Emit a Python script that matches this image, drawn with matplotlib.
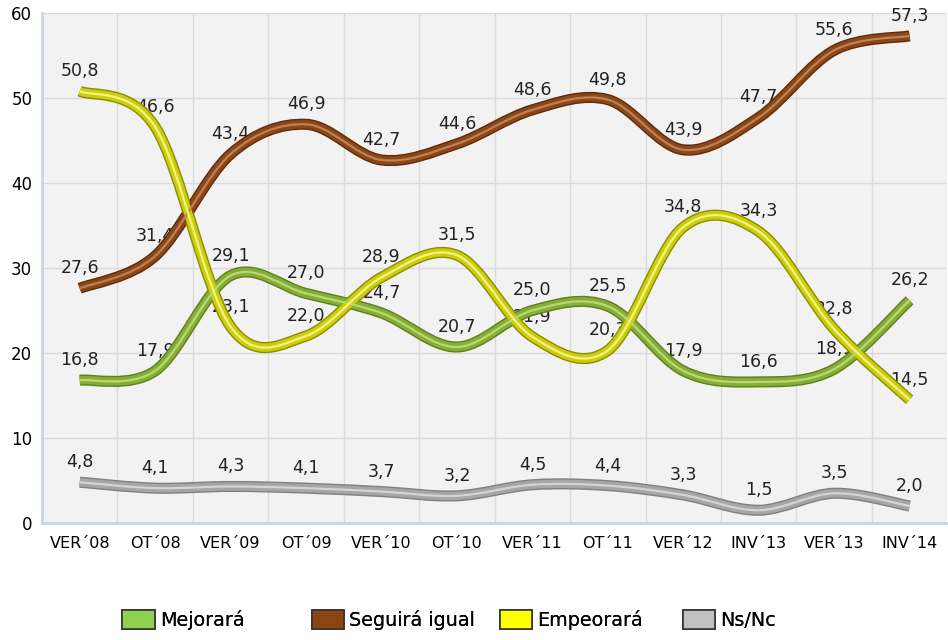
import matplotlib
matplotlib.use("Agg")
import matplotlib.pyplot as plt
from matplotlib.path import Path
from matplotlib.patches import PathPatch, Patch

categories = ["VER´08", "OT´08", "VER´09", "OT´09", "VER´10", "OT´10",
              "VER´11", "OT´11", "VER´12", "INV´13", "VER´13", "INV´14"]
mejorara = [16.8, 17.9, 29.1, 27.0, 24.7, 20.7, 25.0, 25.5, 17.9, 16.6, 18.1, 26.2]
seguira_igual = [27.6, 31.4, 43.4, 46.9, 42.7, 44.6, 48.6, 49.8, 43.9, 47.7, 55.6, 57.3]
empeorara = [50.8, 46.6, 23.1, 22.0, 28.9, 31.5, 21.9, 20.3, 34.8, 34.3, 22.8, 14.5]
ns_nc = [4.8, 4.1, 4.3, 4.1, 3.7, 3.2, 4.5, 4.4, 3.3, 1.5, 3.5, 2.0]

series = [
    ("Mejorará", mejorara, "#5f7f1e", "#86ad35", "#b7d873", "#92d050"),
    ("Seguirá igual", seguira_igual, "#5e2c0a", "#8b4719", "#c0804f", "#8b4513"),
    ("Empeorará", empeorara, "#8c8c00", "#cccc10", "#f4f47a", "#ffff00"),
    ("Ns/Nc", ns_nc, "#808080", "#a6a6a6", "#d4d4d4", "#c0c0c0"),
]


def smooth_path(xs, ys):
    # bezier curve through the points (excel-like smoothing)
    n = len(xs)
    verts = [(xs[0], ys[0])]
    codes = [Path.MOVETO]
    for i in range(n - 1):
        a = max(i - 1, 0)
        b = min(i + 2, n - 1)
        c1 = (xs[i] + (xs[i + 1] - xs[a]) / 6, ys[i] + (ys[i + 1] - ys[a]) / 6)
        c2 = (xs[i + 1] - (xs[b] - xs[i]) / 6, ys[i + 1] - (ys[b] - ys[i]) / 6)
        verts += [c1, c2, (xs[i + 1], ys[i + 1])]
        codes += [Path.CURVE4] * 3
    return Path(verts, codes)


fig = plt.figure(figsize=(9.48, 6.4), dpi=100)
ax = fig.add_axes([0.0443, 0.1828, 0.955, 0.797])
ax.set_facecolor("#f2f2f2")

x = list(range(len(categories)))
handles = []
for name, vals, dark, mid, light, legcol in series:
    p = smooth_path(x, vals)
    for col, lw, z in [(dark, 8, 4), (mid, 6, 5), (light, 1.6, 6)]:
        ax.add_patch(PathPatch(p, facecolor="none", edgecolor=col, lw=lw,
                               capstyle="butt", joinstyle="round", zorder=z))
    for xi, v in zip(x, vals):
        ax.text(xi, v + 1.3, f"{v:.1f}".replace(".", ","), ha="center", va="bottom",
                fontsize=12.5, color="#222222", zorder=3)
    handles.append(Patch(facecolor=legcol, edgecolor="#333333", lw=1.2, label=name))

ax.set_xlim(-0.5, len(categories) - 0.5)
ax.set_ylim(0, 60)
ax.set_yticks(range(0, 61, 10))
ax.set_xticks(x)
ax.set_xticklabels(categories, fontsize=11.5)
ax.tick_params(axis="y", labelsize=12, length=0, pad=7)
ax.tick_params(axis="x", length=0, pad=9)

ax.set_xticks([i + 0.5 for i in x[:-1]], minor=True)
ax.grid(True, which="minor", axis="x", color="#dadada", lw=1)
ax.grid(True, which="major", axis="y", color="#dadada", lw=1)
ax.tick_params(which="minor", length=0)
ax.set_axisbelow(True)

for s in ["top", "right"]:
    ax.spines[s].set_visible(False)
for s in ["left", "bottom"]:
    ax.spines[s].set_color("#c9d5e2")
    ax.spines[s].set_linewidth(2)

# one legend per entry, evenly spaced like the original
for h, lx in zip(handles, [0.129, 0.329, 0.527, 0.72]):
    fig.add_artist(fig.legend(handles=[h], loc="center left", bbox_to_anchor=(lx, 0.031),
                              frameon=False, fontsize=13.8, handlelength=1.7,
                              handleheight=1.1, handletextpad=0.25,
                              borderpad=0, borderaxespad=0))

fig.savefig("out.png", dpi=100)
